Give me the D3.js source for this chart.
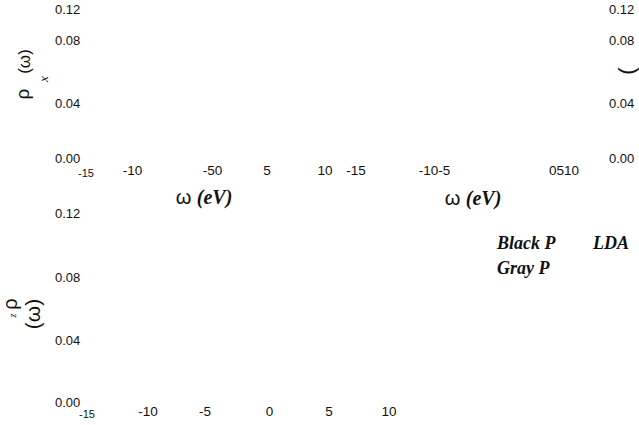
<!DOCTYPE html>
<html>
<head>
<meta charset="utf-8">
<script src="https://cdn.jsdelivr.net/npm/d3@7"></script>
<style>
  html, body { margin: 0; padding: 0; background: #fff; }
  svg { display: block; }
</style>
</head>
<body>
<svg id="chart" width="639" height="425"></svg>
<script>
// Density-of-states panels: tick labels, axis titles and legend text
const yTickValues = [0.00, 0.04, 0.08, 0.12];
const xTicksTopLeft = ["-15", "-10", "-50", "5", "10"];
const xTicksTopRight = ["-15", "-10-5", "0510"];
const xTicksBottom = ["-15", "-10", "-5", "0", "5", "10"];
const legendLabels = ["Black P", "Gray P"];
const legendMethod = "LDA";
const xTitleSymbol = "ω";
const xTitleUnit = "(eV)";

const svg = d3.select("#chart");
const sans = "'Liberation Sans', Arial, sans-serif";
const serif = "'Liberation Serif', 'Times New Roman', serif";
const ink = "#111";
const fmt = d3.format(".2f");

// vertical placement of the y tick labels in each panel
const yTop = d3.scaleLinear().domain([0, 0.04, 0.08, 0.12]).range([158, 103, 40, 9]);
const yBottom = d3.scaleLinear().domain([0, 0.04, 0.08, 0.12]).range([402, 340, 277, 213]);

// horizontal slots for the x tick labels of each panel
const slotsTopLeft = [86, 132.5, 212.5, 267, 325];
const slotsTopRight = [356, 434.5, 564];
const slotsBottom = [87, 148, 205, 269.5, 329, 389];

function yLabels(scale, x) {
  svg.append("g").selectAll("text")
    .data(yTickValues)
    .join("text")
    .attr("x", x)
    .attr("y", d => scale(d))
    .attr("dominant-baseline", "central")
    .attr("font-family", sans)
    .attr("font-size", 13)
    .attr("fill", ink)
    .text(d => fmt(d));
}

function xLabels(labels, slots, y) {
  // the leading "-15" sits lower and smaller, tucked under the 0.00 label
  const tucked = (d, i) => i === 0 && slots[0] < 100;
  svg.append("g").selectAll("text")
    .data(labels)
    .join("text")
    .attr("x", (d, i) => slots[i])
    .attr("y", (d, i) => tucked(d, i) ? y + 3 : y)
    .attr("text-anchor", "middle")
    .attr("dominant-baseline", "central")
    .attr("font-family", sans)
    .attr("font-size", (d, i) => tucked(d, i) ? 11 : 13.5)
    .attr("fill", ink)
    .text(d => d);
}

function xTitle(cx, cy) {
  const t = svg.append("text")
    .attr("x", cx)
    .attr("y", cy)
    .attr("text-anchor", "middle")
    .attr("dominant-baseline", "central")
    .attr("fill", ink)
    .attr("font-size", 20);
  t.append("tspan").attr("font-family", sans).text(xTitleSymbol + " ");
  t.append("tspan").attr("font-family", serif)
    .attr("font-weight", "bold").attr("font-style", "italic").text(xTitleUnit);
}

function rotated(str, x, y, size, family, italic) {
  svg.append("text")
    .attr("transform", `translate(${x},${y}) rotate(-90)`)
    .attr("text-anchor", "middle")
    .attr("dominant-baseline", "central")
    .attr("font-family", family || sans)
    .attr("font-style", italic ? "italic" : "normal")
    .attr("font-size", size)
    .attr("fill", ink)
    .text(str);
}

// top-left panel
yLabels(yTop, 55);
xLabels(xTicksTopLeft, slotsTopLeft, 170);
xTitle(204, 197);
rotated("ρ", 22, 94, 19);
rotated("x", 43, 79, 13, serif, true);
rotated("(ω)", 24.5, 61.5, 17);

// top-right panel
yLabels(yTop, 609);
xLabels(xTicksTopRight, slotsTopRight, 170);
xTitle(473, 198);
rotated("(", 626, 71, 22);

// bottom panel
yLabels(yBottom, 55);
xLabels(xTicksBottom, slotsBottom, 411);
rotated("ρ", 10, 304, 20);
rotated("z", 12.5, 315.5, 10, serif, true);
rotated("(ω)", 32, 314, 21);

// legend
const legend = svg.append("g")
  .attr("font-family", serif)
  .attr("font-weight", "bold")
  .attr("font-style", "italic")
  .attr("font-size", 18)
  .attr("fill", ink);
legend.selectAll("text.entry")
  .data(legendLabels)
  .join("text")
  .attr("class", "entry")
  .attr("x", 497)
  .attr("y", (d, i) => 243 + i * 25)
  .attr("dominant-baseline", "central")
  .text(d => d);
legend.append("text")
  .attr("x", 593)
  .attr("y", 243)
  .attr("dominant-baseline", "central")
  .text(legendMethod);
</script>
</body>
</html>
